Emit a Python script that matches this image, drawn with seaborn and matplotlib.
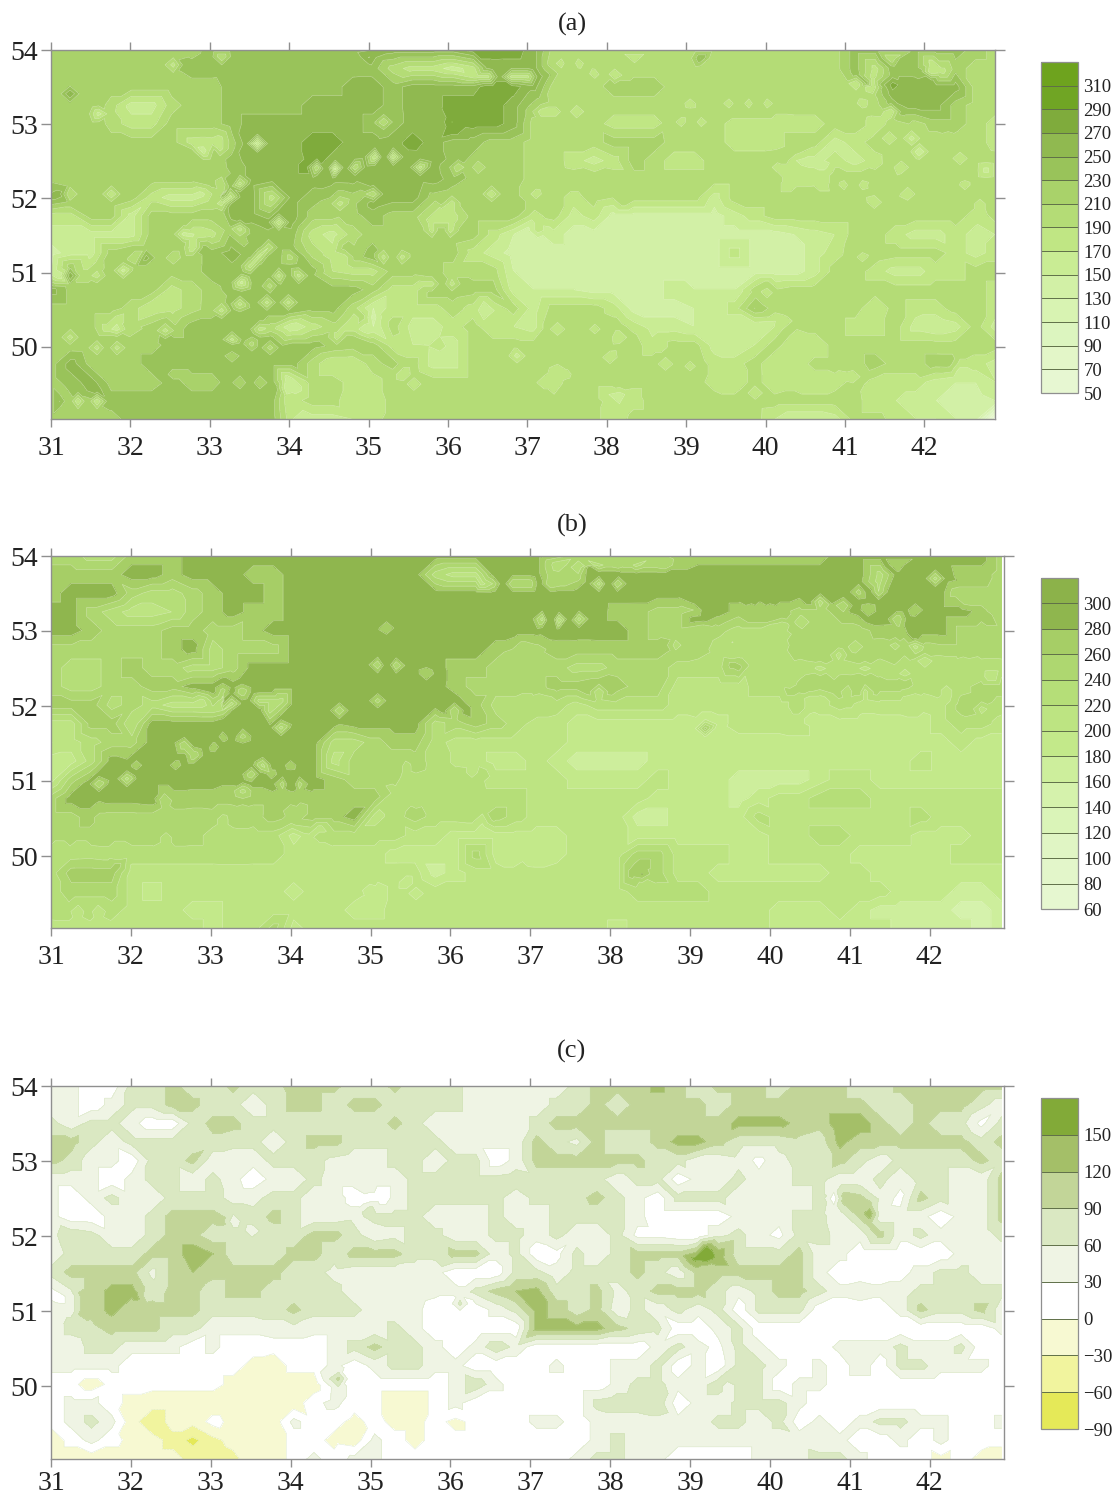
import numpy as np
import matplotlib
matplotlib.use("Agg")
import matplotlib.pyplot as plt
import seaborn as sns

a_rows = [
[22]*8+[24]*9+[26]*4+[28]*3+[26]+[20]*15+[24]*6+[22,20],
[22]*7+[24]*10+[20,18,18,16,18,26,26,26]+[20]*15+[24,18,24,24,18,22,20,20],
[22]*9+[24]*6+[26,26,24]+[26]*4+[28,28,26]+[20]*3+[22]*3+[20]*9+[20,24]+[26]*4+[20,20],
[22,22,22,20,16,16,20,22,22]+[24]*4+[26]*4+[24,26,26,28,28,28,26,22]+[20]*15+[20,20,24,26,26,22,20,20],
[22,22,22,20,18,18,22,22,22,24]+[26]*6+[24,24,26,26,28,28,28,26,20]+[20,20,20,18,18,18,20,20,20]+[18]*5+[20,20,18,20,20,22,22,20,18],
[22]*7+[18,18,22,26,26,26,28,28,26,26,26,28,26,24,24,22,22,20]+[20,20,20,22,22,22,20,20,20,18,18,18,20,20,16,18]+[20]*6+[18],
[22]*9+[24,26,26,26,28]+[26]*6+[24,22,22,22,20]+[20,18,16,18,22,20,18,18]+[20]*4+[18,16,18,16,18]+[20]*6,
[22]*9+[24]+[26]*10+[24,22,22,22]+[20]*13+[18,18]+[20]*9,
[26,22,22,22,22,18,16,16,20,26,26,18,26,24,22,22,26,26,26,22,22,22,22,22]+[20,20,18,20,20,20,20,20,20,16,20,20]+[20]*12,
[18,18,22,22,16,22,22,22,22,26,26,26,26,22,22,22,24,22,22,18,18,22,22,22,18]+[20,16,18]+[14]*6+[16,18]+[20]*10+[18,20],
[16,16,16,16,16,22,22,17,18,22,24,24,24,18,16,20]+[22]*6+[18,15,14,16]+[14]*11+[15,16,17,20,20,18,16,16,18,16,17],
[14,16,16,22,22,22,22,22,24,26,24,24,24,20,18,22,24,22,22,22,22,18,16,14,14]+[14]*9+[18,14,14,14,16,18,20,20,20,20,20,18,16,18],
[15,22,20,22,22,22,22,22,24,24,24,24,24,24,19,18,18,22,22,22,20,20,20,15,14]+[14]*12+[14,16,20,20,18,16,16,18,18,20,20],
[26,22,22,22,22,22,18,20,22]+[24]*7+[22,18,18,22,22,22,22,16,15]+[15,15,14,14,14,14,16,15,15,15,20]+[20]*11+[18],
[22,22,22,22,20,17,18,20,22,24,24,24,24,24,24,20,15,18,18,18,20,18,17,20,16]+[20,20,20,18,14,14,14,15,15,18,23]+[20]*5+[17,20,18,18,20,20]+[18],
[22,22,22,18,20,22,22,24,24,24,24,20,15,18,20,18,15,20,16,16,18,20,17,17,16]+[20,20,20,20,18,16,16,15,15,15,15,17,20,20,20,18,18,20,16,15,16,20,16],
[22]*6+[24]*8+[22,22,22,18,17,17,16,20,20,20,20]+[20]*5+[18,20,20,16,15,17,20,17,17]+[20]*9,
[22,26,22,22,22]+[24]*8+[20,17,17,20,22,20,16,16,20,20,20,20]+[20]*8+[18,18,20,17,17,20,20,20,22,20,20,22,22,18,16],
[22,24,26,22,22,22,24,22,22,24,24,24,16,20,20,18,18,20]+[20]*6+[20,17]+[20]*7+[18,17,20,17,18,17,18,20,18,18,18,16,15,15,17],
[22,22,22,24]+[24]*8+[18,20,20,17,17]+[20]*7+[20,20,20,20,17,18]+[20]*9+[20,20,17,17,16,15,14,14,15],
[22]*4+[24]*8+[17,16,16,17,18]+[20]*7+[20,20,20,20,17]+[20]*7+[17,15,15,16,20,20,18,17,17,15,14,3],
]

b_rows = [
[25,25,23,23,27,27,27]+[29]*17+[29]+[25]*5+[25,27]+[27]*5+[27,27,29]+[29]*6+[29,25],
[27,27,27,27,29,29,27,29,29,29,27,27]+[29]*7+[23,21,21,29,29,29,25,25]+[29]*14+[23,29,29,29,27,27,25],
[27,29,29,29,25,23,23,25,27,29,29,27]+[29]*13+[29]*20+[25,25,25],
[29,29,25,23,21,21,22,25,27,29,27,27]+[29]*13+[29,29,29,27,27,25,25,29,29,27,27,27,25,25,27]+[29]*6+[27,27],
[29,29,27,25,25,25,27,27,25,25,27]+[29]*13+[29]+[29]*4+[27,25,25,25,25,23,23,23,25,25,25,25,27,27,29,29,25,25,25],
[25]*6+[27,29,23,25,25,25]+[29]*10+[27,25,25]+[27]*6+[25,25,23,23,23,23,25,25,25]+[25]*8,
[25,23,23,25,27,25,25,23,23,25,29]+[29]*9+[27,27,25,25,25,25,23,23,25,25,25,23,23,23,27,23,23,23,23,23]+[23]*8,
[25,23,23,25,25,27,27]+[29]*13+[27,25,25,25,25,27,27,27,27,25,25,21,21,21,21,23,23,25,25,25,25,25,25,23,23,23,25,25],
[27,27,27,23,25,23,21,21,23,29,29,23]+[29]*9+[27,23,23,23,23,21,23,23,23,23]+[21]*5+[21,23,21,23,21,21,21,21,21,25,25,23],
[21,21,27,27,22]+[29]*14+[23,25,27,25,23,21,21]+[19]*6+[19,19,21,21,21,21]+[19]*6+[21,23,23,21],
[22,21,23,25,25,29]+[29]*8+[23,23,25,27,27,23,21,21,21,21,21,21]+[19]*18+[19,21,19,19],
[19,19,23]+[29]*11+[21,25,25,25,25,23,21,21,19,19,21,19,17,17,17,17]+[19]*11+[19,19,21,19,19,19,19],
[19,25]+[29]*12+[27,25,25,25,23,23,23,23,21,21,21,21,19,19,19,19,21,19,19,19,17,17,17,17,19,21,21]+[19]*7,
[25]+[29]*5+[27]*10+[27,23]+[23]*6+[21]*5+[21,19,19,19,19,17,19,21,21,23,23,23,21]+[21]*6,
[25,25,27]+[25]*8+[27,25,27,27,29,21,23,25,23,23,23,25,23]+[21]*5+[17,17,19,19,19,19,23,21,21,21,21,21,21,21,23,21,21,21,21],
[25]*8+[23]*4+[19,21,23,23,23,23,21,21,19,19,19,19]+[19,19,21,21,21]+[19]*7+[21,21,23,23,21,21,21,19,19,19,21,21],
[23]*12+[21]*5+[19,19,19,19,25,19,19]+[19,19,21,21,21,25,25,21,21,21,19,19,21,21,21,21]+[19]*5+[21,21,21],
[23,27,27,27]+[21]*15+[17,19,21,21,21]+[21]*4+[21,27,25,21,21]+[19]*6+[21,21,19]+[19]*6,
[23,25,25,25,21,19,21,21,21,21,21,21,19,21,21,21,19]+[21]*7+[21]*5+[23,23,23,23]+[21]*8+[21,19,19,19,17,17,19],
[23,23,23,23,21,21,21,19,19,21,21,21,21,21,21,19,19]+[21]*7+[21]*12+[19,19,19,21,19,17,17,17,17,15,15,17],
[21]*8+[19,21,21,25,19,21]+[21]*10+[21]*4+[19]+[21]*7+[19]*6+[17,17,17,17,15,17],
]

c_rows = [
[4,4,1,1,7,7,10,7,7,10,7,8,10,10,10,7,7,10,7,7,7,4,4,4,4,4,7,10,10,10,13,10,7,10,10,10,7,10,10,10,7,7,10,10,10,10,10,10],
[4,4,1,4,7,7,10,10,7,7,4,7,10,10,7,10,10,7,7,7,7,4,4,4,4,7,7,10,7,10,10,10,10,7,10,10,10,10,10,10,10,7,7,10,10,10,7,4],
[7,4,7,7,4,1,1,7,10,10,7,7,7,7,7,7,7,10,7,4,4,4,4,4,7,10,10,10,10,10,10,10,10,10,13,13,13,11,10,14,14,10,7,10,7,7,2,7],
[10,10,7,4,7,7,7,7,8,7,7,4,7,10,10,7,7,7,7,7,4,4,4,4,10,7,5,10,7,7,10,13,13,10,7,7,7,8,7,13,10,10,10,10,10,10,7,10],
[10,8,4,4,1,7,7,10,4,4,4,7,7,7,5,4,4,7,7,4,7,7,1,4,10,10,10,10,10,10,7,7,4,4,5,2,5,7,7,10,7,4,7,7,7,7,10,7],
[4,4,4,1,4,7,7,4,7,4,1,4,4,7,4,4,4,4,7,7,7,7,7,8,7,7,7,7,4,7,7,1,4,4,7,4,4,7,7,4,4,7,4,7,7,4,4,10],
[4,1,4,7,4,4,7,7,7,5,5,7,7,4,4,2,1,4,7,7,7,7,7,4,7,7,8,10,7,4,1,7,7,7,4,4,4,4,7,11,10,5,2,10,7,4,4,10],
[4,1,1,4,4,7,10,10,10,7,7,10,7,4,4,5,7,7,7,4,4,4,7,4,4,7,7,7,7,4,1,1,1,1,4,4,4,7,7,4,10,4,4,4,1,4,4,10],
[5,8,7,4,4,7,10,10,7,7,7,7,7,10,10,7,4,5,7,7,4,4,7,7,4,7,4,4,7,2,2,1,1,5,7,4,2,7,8,4,4,10,4,7,4,4,4,7],
[4,7,7,7,7,10,10,14,12,7,7,7,10,10,7,10,10,10,7,7,10,10,4,7,1,2,7,4,7,10,10,10,16,14,7,7,7,10,4,4,1,1,1,1,1,4,4,4],
[7,10,10,10,10,5,10,12,10,10,10,10,7,7,5,4,4,4,4,4,1,1,1,7,7,4,7,7,7,10,7,4,10,10,10,10,10,10,4,1,1,1,2,4,7,7,4,4],
[2,7,10,13,13,8,10,10,7,10,10,7,7,7,7,4,4,5,5,4,4,7,10,12,13,7,7,10,5,7,10,10,10,7,4,7,10,10,7,4,5,4,4,7,7,7,7,7],
[4,7,10,13,10,10,10,10,7,7,7,7,10,7,7,7,4,4,4,1,1,1,4,7,13,11,7,10,4,7,4,7,4,7,1,7,7,7,1,1,1,1,4,10,7,7,10,4],
[4,7,8,10,10,10,7,7,4,4,4,5,5,4,4,4,4,7,4,1,1,1,1,1,13,13,13,13,10,8,7,1,1,4,7,1,1,1,1,1,1,1,1,1,1,1,1,4],
[4,4,7,7,4,4,4,1,4,1,1,1,1,1,4,7,10,7,7,4,1,4,8,5,1,1,1,1,1,1,4,7,4,2,7,4,1,1,1,4,4,4,7,4,4,7,1,1],
[4,4,4,4,1,1,1,1,1,1,-1,-2,1,1,4,1,4,7,7,4,4,1,1,1,1,4,1,1,4,4,7,1,4,1,7,7,4,1,4,1,5,1,7,7,4,4,4,1],
[1,1,-2,1,1,1,1,1,1,-1,-2,-2,-2,-2,5,1,1,1,1,1,4,8,4,1,1,1,1,1,4,7,7,4,4,8,7,7,1,4,4,1,1,1,1,1,1,1,1,1],
[1,4,4,1,-1,-2,-2,-2,-2,-2,-2,-2,-2,2,4,1,1,-2,-2,1,4,1,1,1,1,1,1,7,8,8,8,1,4,4,7,7,7,4,1,1,1,1,1,1,1,1,1,1],
[1,4,7,4,-2,-5,-2,-2,1,-1,-2,-2,4,1,1,-1,1,-1,-1,1,-1,1,1,1,4,4,1,4,4,4,5,4,4,7,7,4,7,1,4,1,4,7,7,4,4,1,1,4],
[-2,1,4,1,-1,-2,-4,-7,-4,-2,-2,-2,1,1,-1,-2,4,1,-1,1,1,1,1,1,1,1,1,4,7,4,4,4,4,4,4,4,4,5,4,4,1,1,4,1,4,1,1,1],
[-2,-2,-2,-2,-2,-2,-2,-4,-5,-4,-1,-2,1,4,1,4,4,1,1,1,1,1,1,1,1,1,4,7,7,4,4,1,1,1,1,4,5,5,7,7,4,1,1,1,-1,1,-1,-2],
]

# small spots on the maps: lon, lat, value in tens
a_spots = [
(31.6,53.14,16),(31.24,53.41,27),(32.54,53.8,18),(33.15,53.91,19),(36.5,53.64,18),(36.8,53.64,18),(37.0,53.64,18),(35.0,53.9,27),
(35.19,53.03,19),(36.05,53.03,29),(33.6,52.74,15),(32.92,52.63,16),(33.13,52.67,18),(34.35,52.42,19),(34.58,52.4,16),(34.83,52.42,19),
(35.08,52.56,17),(35.31,52.56,17),(35.65,52.42,18),(36.13,52.42,19),(36.38,52.42,19),(35.06,52.06,19),(34.64,51.93,18),(36.05,51.94,18),
(36.55,52.06,17),(33.15,52.2,19),(33.38,52.2,18),(33.03,52.06,19),(33.26,52.02,18),(33.15,51.93,18),(31.76,52.06,17),(31.24,52.06,19),
(33.87,51.68,17),(33.38,51.59,18),(32.67,51.52,16),(32.79,51.34,17),(32.54,51.2,19),(32.2,51.2,26),(32.06,51.2,19),(31.91,51.03,16),
(31.58,50.96,18),(31.24,50.96,27),(33.74,51.34,19),(33.63,51.23,18),(33.51,51.09,18),(33.87,50.96,18),(34.12,50.96,18),(34.01,51.21,20),
(33.4,50.87,16),(33.76,50.82,20),(33.38,50.58,18),(33.99,50.6,18),(33.72,50.6,18),(33.15,50.49,18),(33.63,50.24,18),(32.44,50.22,18),
(31.83,50.24,16),(31.24,50.13,18),(31.58,49.99,18),(31.83,49.99,18),(33.28,50.1,18),(33.53,50.04,20),(33.76,49.99,20),(33.28,49.88,21),
(32.54,49.63,22),(33.38,49.52,21),(33.63,49.52,21),(33.97,49.45,15),(31.34,49.27,17),(31.58,49.27,17),(31.11,49.27,25),(35.19,51.21,18),
(35.42,51.21,18),(34.7,51.21,18),(35.8,50.85,18),(36.05,50.85,18),(36.45,50.49,16),(36.87,49.88,16),(35.06,50.4,14),(34.83,50.24,18),
(34.6,50.13,18),(35.44,49.63,17),(35.57,49.5,17),(35.9,50.01,18),(35.8,51.57,18),(35.92,51.7,18),(36.03,51.57,18),
(37.43,53.82,18),(37.64,53.82,18),(37.85,53.68,18),(38.1,53.66,17),(38.35,53.89,18),(39.18,53.89,25),(37.17,53.17,18),(37.36,53.17,18),
(37.62,53.17,17),(39.05,53.28,18),(39.54,53.28,18),(39.79,53.28,18),(40.02,53.28,18),(38.94,53.03,18),(39.19,53.03,18),(41.58,53.17,17),
(41.35,53.5,17),(41.14,53.55,17),(41.22,53.28,18),(41.33,53.05,18),(41.6,53.53,28),(42.09,53.71,17),(41.58,53.89,19),(42.45,52.54,17),
(42.78,52.38,16),(41.56,52.81,17),(41.84,52.81,16),(41.94,52.63,15),(41.71,52.42,17),(42.3,52.81,19),(40.15,52.42,18),(40.38,52.51,17),
(40.27,52.29,18),(40.74,52.31,18),(40.99,52.18,18),(41.22,52.18,18),(41.37,51.95,17),(41.79,52.06,17),(42.51,52.18,18),(42.7,51.93,18),
(37.11,52.06,18),(37.36,52.18,19),(37.85,52.18,19),(38.21,52.06,19),(37.13,51.57,18),(41.22,51.21,18),(37.38,50.24,17),(37.85,50.24,18),
(38.16,50.13,17),(38.69,49.99,18),(38.74,49.77,17),(39.05,49.74,18),(38.04,49.86,17),(37.49,49.63,18),(37.38,49.77,19),(37.62,49.77,19),
(37.21,49.52,17),(38.16,49.36,16),(39.87,49.38,17),(40.02,50.73,18),(40.27,50.35,18),(41.1,49.6,17),(42.45,49.77,18),
]

b_spots = [
(36.53,53.63,24),(36.78,53.63,24),(35.2,53.04,26),(35.09,52.55,24),(35.32,52.54,24),(35.7,52.43,26),(34.61,51.94,24),(35.09,52.07,25),
(36.05,51.94,24),(33.88,51.71,23),(33.4,51.6,25),(33.15,51.59,27),(32.67,51.48,24),(32.79,51.34,24),(33.05,51.45,27),(32.56,51.21,27),
(32.07,51.21,27),(31.95,51.03,23),(31.6,50.96,24),(33.65,51.21,23),(33.51,51.09,24),(34.0,51.21,27),(33.76,51.09,27),(33.9,50.96,25),
(34.11,50.96,25),(33.4,50.87,23),(33.15,52.2,25),(33.39,52.19,24),(33.03,52.07,25),(33.26,52.03,23),(33.15,51.94,24),(33.61,52.07,23),
(33.74,52.07,23),(35.44,51.2,23),(35.22,51.2,25),(32.42,50.74,24),(31.61,50.51,25),(33.4,50.6,24),(34.0,50.6,24),(33.15,50.49,23),
(31.24,50.14,24),(31.84,50.0,22),(33.28,50.14,22),(32.44,50.25,23),(34.36,50.25,23),(31.34,49.26,20),(31.59,49.26,20),(35.32,50.73,22),
(35.57,50.72,22),(35.8,50.86,22),(36.05,50.86,22),(35.93,51.1,23),(36.27,51.11,21),(36.4,50.5,21),(36.9,49.92,20),(35.45,49.65,18),
(35.57,49.5,18),(34.99,49.54,18),
(36.98,53.63,24),(37.25,53.63,24),(37.86,53.63,23),(38.09,53.63,24),(37.36,53.88,22),(37.6,53.85,22),(37.86,53.88,23),(38.11,53.88,24),
(38.32,53.88,23),(38.69,53.88,24),(37.15,53.16,23),(37.36,53.14,22),(37.61,53.16,23),(36.9,52.68,24),(39.05,53.28,26),(39.77,53.28,26),
(40.0,53.28,26),(41.59,53.16,24),(41.82,53.28,26),(41.23,53.28,26),(41.11,53.52,25),(41.36,53.52,24),(41.59,53.88,26),(42.07,53.7,23),
(40.63,53.39,23),(40.92,53.34,24),(42.44,53.52,25),(42.65,53.52,25),(42.78,53.28,25),(38.82,52.81,23),(39.17,53.03,24),(39.53,52.85,24),
(39.53,52.68,22),(39.78,52.68,23),(40.15,52.81,22),(40.4,53.12,22),(40.15,53.07,22),(40.13,52.43,22),(40.25,52.32,22),(40.38,52.54,22),
(40.63,52.5,21),(41.19,52.5,21),(40.98,52.19,22),(41.19,52.19,21),(40.5,52.1,21),(40.36,51.83,21),(40.86,52.68,21),(41.07,52.79,22),
(41.57,52.81,23),(41.82,52.79,21),(41.94,52.6,20),(41.69,52.43,21),(42.42,52.57,22),(42.78,52.39,20),(42.21,52.21,21),(41.82,52.08,20),
(42.65,51.96,21),(37.11,52.08,22),(37.86,52.19,22),(39.19,51.7,27),(38.4,49.76,28),
]

c_spots = [(33.28,52.2,4),(33.52,52.07,4),(32.2,51.2,7),(34.75,52.44,2),(35.0,52.5,1),(34.6,50.1,10),(39.2,51.7,17),(40.8,52.5,1),
           (39.47,50.0,4),(41.25,52.3,14),(31.25,51.0,4),(31.25,51.2,4),(35.5,51.56,4),(36.12,51.1,7)]

a_levels = list(range(50, 331, 20))
b_levels = list(range(60, 321, 20))
c_levels = list(range(-90, 181, 30))

a_colors = ["#e7f7d2", "#e3f6c8", "#dcf5bf", "#d8f3b2", "#d2f0a6", "#c9ec94", "#c0e684", "#b4dc76",
            "#a9d26a", "#99c35a", "#90b950", "#7fab3c", "#70a524", "#6ea31e"]
b_colors = ["#e6f7d0", "#e3f6ca", "#e0f5c4", "#daf4b8", "#d5f2ac", "#cdee9c", "#c3e98a", "#bde482",
            "#b5de78", "#aed770", "#a6ce66", "#8fb64e", "#8cb24a"]
c_colors = ["#e5e958", "#f1f49e", "#f7f9d2", "#ffffff", "#eff4e4", "#dae8c2", "#c2d598", "#a4bf68", "#82aa38"]

panel_titles = ["(a)", "(b)", "(c)"]
x_ticks = list(range(31, 43))
y_ticks = [50, 51, 52, 53, 54]

W, H = 1119, 1497
sns.set_theme(style="ticks")
plt.rcParams["font.family"] = ["Liberation Serif", "DejaVu Serif"]
GREY = "#8f8f8f"
RING = [(0.14, 0), (-0.14, 0), (0, 0.135), (0, -0.135)]


def px_axes(fig, left, top, right, bottom):
    return fig.add_axes([left / W, 1 - bottom / H, (right - left) / W, (bottom - top) / H])


def draw_panel(fig, rows, spots, levels, colors, title, box, cbox, xmax, ymin, title_y, line_color, xpad):
    ax = px_axes(fig, *box)
    cax = px_axes(fig, *cbox)
    lon_grid, lat_grid = np.meshgrid(np.linspace(31, 42.9, 48), np.linspace(54, 49.03, 21))
    gx = lon_grid.ravel()
    gy = lat_grid.ravel()
    gz = np.array(rows, dtype=float).ravel()
    sp = np.array(spots, dtype=float)
    # a spot is a small diamond: its four corners carry the value of the closest grid node
    rx, ry, rz = [], [], []
    for lon, lat, val in spots:
        for dx, dy in RING:
            px, py = lon + dx, lat + dy
            if not (31 <= px <= 42.9 and 49.03 <= py <= 54):
                continue
            if np.hypot(sp[:, 0] - px, sp[:, 1] - py).min() < 0.07:
                continue
            rx.append(round(px, 2))
            ry.append(round(py, 2))
            rz.append(gz[np.hypot(gx - px, gy - py).argmin()])
    ring = np.unique(np.column_stack([rx, ry, rz]), axis=0)
    ring = ring[np.unique(ring[:, :2], axis=0, return_index=True)[1]]
    keep = np.ones(len(gx), dtype=bool)
    for lon, lat, val in spots:
        keep &= np.hypot(gx - lon, gy - lat) > 0.13
    x = np.concatenate([gx[keep], sp[:, 0], ring[:, 0]])
    y = np.concatenate([gy[keep], sp[:, 1], ring[:, 1]])
    z = np.concatenate([gz[keep], sp[:, 2], ring[:, 2]]) * 10 + 0.5  # keeps flat areas off the contour levels
    pal = sns.color_palette(colors)
    cs = ax.tricontourf(x, y, z, levels=levels, colors=pal)
    ax.tricontour(x, y, z, levels=levels, colors=line_color, linewidths=0.4, alpha=0.55)
    ax.set_xlim(31, xmax)
    ax.set_ylim(ymin, 54)
    ax.set_xticks(x_ticks)
    ax.set_yticks(y_ticks)
    ax.tick_params(axis="both", which="major", top=True, right=True, left=True, bottom=True,
                   length=7.5, width=1, color=GREY, labelsize=20, labelcolor="#222222", pad=2)
    ax.tick_params(axis="x", length=6, pad=xpad)
    for s in ax.spines.values():
        s.set_color(GREY)
        s.set_linewidth(1.0)
    fig.text(572 / W, 1 - title_y / H, title, ha="center", va="center", fontsize=19, color="#222222")

    cb = fig.colorbar(cs, cax=cax, drawedges=True)
    cb.set_ticks(levels[:-1])
    cb.set_ticklabels([str(v).replace("-", "\u2212") for v in levels[:-1]])
    cb.ax.tick_params(length=0, labelsize=13.5, labelcolor="#222222", pad=4)
    cb.dividers.set_color("#5f6f48")
    cb.dividers.set_linewidth(0.7)
    cb.outline.set_edgecolor(GREY)
    cb.outline.set_linewidth(0.9)


fig = plt.figure(figsize=(W / 100, H / 100), dpi=100)
draw_panel(fig, a_rows, a_spots, a_levels, a_colors, panel_titles[0], (51, 50, 995, 419), (1041, 62, 1078, 393),
           42.89, 49.03, 24, "#f4fbe6", 6)
draw_panel(fig, b_rows, b_spots, b_levels, b_colors, panel_titles[1], (51, 556, 1004, 928), (1041, 578, 1078, 909),
           42.93, 49.04, 525, "#f4fbe6", 6)
draw_panel(fig, c_rows, c_spots, c_levels, c_colors, panel_titles[2], (51, 1086, 1004, 1459), (1041, 1098, 1078, 1429),
           42.93, 49.03, 1051, "#c8dcae", 3)
fig.savefig("out.png", dpi=100)
